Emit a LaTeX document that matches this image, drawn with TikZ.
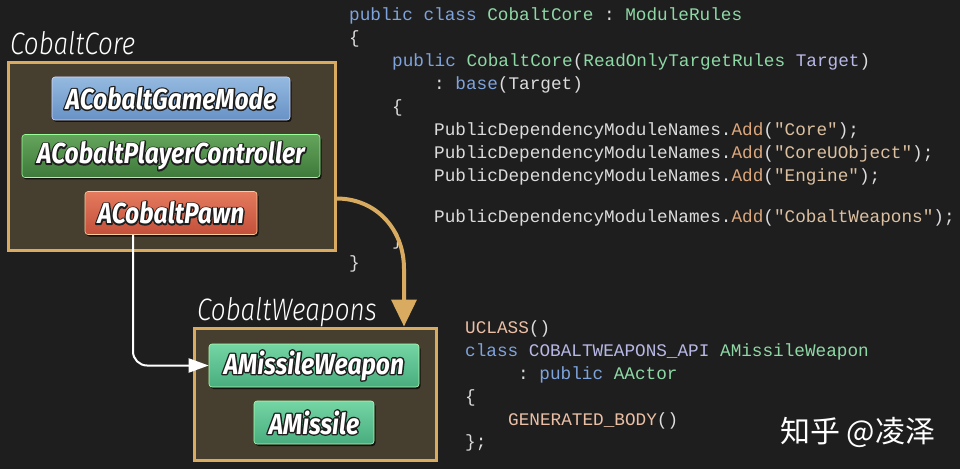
\documentclass[tikz,border=0pt]{standalone}
\usepackage{fontspec}
\usetikzlibrary{arrows.meta,shadows,positioning}

\setmonofont{Liberation Mono}
\newfontfamily\classfont[FakeStretch=0.85]{Fira Sans}
\newfontfamily\modfont[FakeStretch=0.84,ItalicFont={Fira Sans Light Italic}]{Fira Sans Light}
\newfontfamily\cjkfont{Noto Sans CJK SC}

\definecolor{bgdark}{HTML}{1E1E1E}
\definecolor{modfill}{HTML}{463E2E}
\definecolor{modgold}{HTML}{D8AB60}
\definecolor{codewhite}{HTML}{DCDCDC}
\definecolor{kwblue}{HTML}{7FA3DC}
\definecolor{typegreen}{HTML}{8ED8A6}
\definecolor{parampurple}{HTML}{B8B8E6}
\definecolor{methodtan}{HTML}{DDA77C}
\definecolor{strtan}{HTML}{DCC0A0}
\definecolor{macropeach}{HTML}{EBBFA5}

% white letters on a dark stroked copy
\newcommand\outlined[1]{\rlap{\special{pdf:literal direct q 0.12 0.12 0.12 RG 2.8 w 1 j 1 Tr}#1\special{pdf:literal direct Q}}#1}
\newcommand\kw[1]{\textcolor{kwblue}{#1}}
\newcommand\ty[1]{\textcolor{typegreen}{#1}}
\newcommand\pa[1]{\textcolor{parampurple}{#1}}
\newcommand\fn[1]{\textcolor{methodtan}{#1}}
\newcommand\st[1]{\textcolor{strtan}{#1}}
\newcommand\mc[1]{\textcolor{macropeach}{#1}}

\tikzset{
  modbox/.style={draw=modgold, fill=modfill, line width=3pt, inner sep=0},
  modlabel/.style={anchor=base west, inner sep=0, text=white,
    font=\modfont\itshape\fontsize{31}{31}\selectfont},
  classbox/.style={rounded corners=3pt, inner sep=0, text=white,
    minimum height=43pt, line width=0.6pt,
    font=\classfont\bfseries\itshape\fontsize{29}{29}\selectfont,
    drop shadow={shadow xshift=1.5pt, shadow yshift=-2pt, opacity=.7, fill=black}},
  code/.style={anchor=base west, inner sep=0, text=codewhite,
    font=\ttfamily\fontsize{17.7}{20}\selectfont\frenchspacing},
  linkarrow/.style={draw=white, line width=2pt, rounded corners=14pt,
    -{Triangle[width=14pt,length=20pt]}},
  goldarrow/.style={draw=modgold, line width=4pt,
    -{Triangle[width=25pt,length=27pt]}}
}

\begin{document}
\begin{tikzpicture}[x=1pt,y=1pt]
\useasboundingbox (0,0) rectangle (960,469);
\fill[bgdark] (0,0) rectangle (960,469);

% Module boxes
\node[modbox, minimum width=327pt, minimum height=187pt] (corebox) at (171.5,312.5) {};
\node[modlabel] (corelabel) at (10,414) {CobaltCore};
\node[modbox, minimum width=242pt, minimum height=132pt] (wpnbox) at (315,75) {};
\node[modlabel] (wpnlabel) at (197,149) {CobaltWeapons};

% Classes
\node[classbox, minimum width=238pt, draw=blue!15!white, top color={rgb,255:red,148;green,186;blue,224}, bottom color={rgb,255:red,104;green,146;blue,198}] (gamemode) at (171,370.5) {\outlined{ACobaltGameMode}};
\node[classbox, minimum width=298pt, draw=green!40!white, top color={rgb,255:red,100;green,164;blue,92}, bottom color={rgb,255:red,62;green,122;blue,58}] (player) at (171,313) {\outlined{ACobaltPlayerController}};
\node[classbox, minimum width=172pt, draw=orange!40!white, top color={rgb,255:red,228;green,122;blue,94}, bottom color={rgb,255:red,196;green,80;blue,58}] (pawn) at (171,256) {\outlined{ACobaltPawn}};
\node[classbox, minimum width=210pt, draw=green!30!white, top color={rgb,255:red,116;green,214;blue,164}, bottom color={rgb,255:red,72;green,172;blue,126}] (mweapon) at (314,103.5) {\outlined{AMissileWeapon}};
\node[classbox, minimum width=120pt, draw=green!30!white, top color={rgb,255:red,116;green,214;blue,164}, bottom color={rgb,255:red,72;green,172;blue,126}] (missile) at (314,46.5) {\outlined{AMissile}};

% Build.cs code
\node[code] (c1) at (349,448) {\kw{public} \kw{class} \ty{CobaltCore} : \ty{ModuleRules}};
\node[code] (c2) at (349,425) {\{};
\node[code] (c3) at (392,402) {\kw{public} \ty{CobaltCore}(\ty{ReadOnlyTargetRules} \pa{Target})};
\node[code] (c4) at (434,379) {: \kw{base}(Target)};
\node[code] (c5) at (392,356) {\{};
\node[code] (c6) at (434,333) {PublicDependencyModuleNames.\fn{Add}(\st{"Core"});};
\node[code] (c7) at (434,310) {PublicDependencyModuleNames.\fn{Add}(\st{"CoreUObject"});};
\node[code] (c8) at (434,287) {PublicDependencyModuleNames.\fn{Add}(\st{"Engine"});};
\node[code] (c9) at (434,246) {PublicDependencyModuleNames.\fn{Add}(\st{"CobaltWeapons"});};
\node[code] (c10) at (392,224) {\}};
\node[code] (c11) at (349,201) {\}};

% header code
\node[code] (d1) at (465,136) {\mc{UCLASS}()};
\node[code] (d2) at (465,113) {\kw{class} \pa{COBALTWEAPONS\_API} \ty{AMissileWeapon}};
\node[code] (d3) at (518,90) {: \kw{public} \ty{AActor}};
\node[code] (d4) at (465,67) {\{};
\node[code] (d5) at (508,44) {\mc{GENERATED\_BODY}()};
\node[code] (d6) at (465,22) {\};};

\node[anchor=base west, inner sep=0, text=white, font=\cjkfont\fontsize{30}{30}\selectfont] (mark) at (780,27) {知乎 @凌泽};

% Connectors
\coordinate (bend) at (404,200);
\draw[linkarrow] ([xshift=-38pt]pawn.south) |- (mweapon.west);
\draw[goldarrow] ([yshift=-42pt]corebox.east) .. controls (376,270.5) and (404,240) .. (bend) -- ([xshift=89pt]wpnbox.north);

\end{tikzpicture}
\end{document}
